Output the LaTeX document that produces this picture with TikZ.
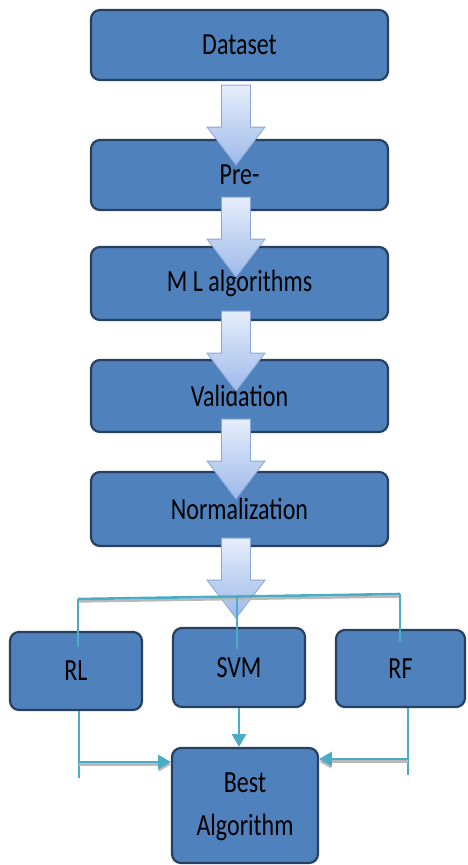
\documentclass[tikz,border=0pt]{standalone}
\usepackage{graphicx}
\usepackage{fontspec}
\setmainfont{Carlito}
\usepackage{tikz}
\usetikzlibrary{shapes,arrows,positioning,calc}

\definecolor{boxblue}{HTML}{4F81BD}
\definecolor{boxedge}{HTML}{27405F}
\definecolor{linkteal}{HTML}{4BACC6}
\definecolor{arrtop}{HTML}{E6EEFB}
\definecolor{arrbot}{HTML}{9DB9EA}
\definecolor{arredge}{HTML}{8AA6D8}

% text in the source is drawn a bit taller than wide
\newcommand{\tall}[1]{\scalebox{1}[1.28]{#1}}
% hollow block arrow, #1 = middle of the top of its shaft
\newcommand{\bigarrow}[1]{%
  \shade[blockarrow] (#1) ++(-14.5,0) -- ++(29,0) -- ++(0,42) -- ++(14.5,0)
    -- ++(-29,38) -- ++(-29,-38) -- ++(14.5,0) -- cycle;}

\begin{document}
\begin{tikzpicture}[x=1pt,y=-1pt,
  box/.style={rectangle,rounded corners=9pt,draw=boxedge,line width=2.2pt,fill=boxblue,
    minimum width=297pt,minimum height=72pt,inner sep=0pt,
    font=\fontsize{24}{33}\selectfont},
  smallbox/.style={box,minimum width=131pt,minimum height=78pt},
  blockarrow/.style={top color=arrtop,bottom color=arrbot,draw=arredge,line width=0.8pt},
  link/.style={draw=linkteal,line width=2.6pt},
  shadowed/.style={preaction={draw=gray!55,line width=2.4pt,transform canvas={yshift=-2.5pt}}}]
\useasboundingbox (0,0) rectangle (467,865);

\node[box,minimum height=70pt] (data) at (239.5,45) {\tall{Dataset}};
\node[box,minimum height=70pt] (pre) at (239.5,175) {\tall{Pre-}};
\node[box,minimum height=73pt] (ml) at (239.5,283.5) {\tall{M L algorithms}};
\node[box] (valid) at (239.5,396) {\tall{Validation}};
\node[box,minimum height=74pt] (norm) at (239.5,509) {\tall{Normalization}};

\foreach \n/\dy in {data/4,pre/-14,ml/-10,valid/-14,norm/-9}
  \bigarrow{$(\n.south)+(-3.5,\dy)$};

\node[smallbox,minimum width=132pt] (rl) at (76,671) {\tall{RL}};
\node[smallbox,minimum width=132pt,minimum height=79pt] (svm) at (239,667.5) {\tall{SVM}};
\node[smallbox,minimum width=129pt,minimum height=77pt] (rf) at (400.5,668.5) {\tall{RF}};
\node[box,minimum width=146pt,minimum height=115pt] (best) at (245,805.5)
  {\tall{\begin{tabular}{@{}c@{}}Best\\Algorithm\end{tabular}}};

% branch to the three models
\coordinate (busl) at (78,599);
\coordinate (busr) at (400,594);
\coordinate (busm) at (237,597);
\draw[link,shadowed] (busl) -- (busr);
\draw[link] (busl) -- ($(busl |- rl.north)+(0,16)$);
\draw[link] (busm) -- ($(busm |- svm.north)+(0,22)$);
\draw[link] (busr) -- ($(busr |- rf.north)+(0,13)$);

% join into the best one
\coordinate (rlend) at (79,778);
\coordinate (rlknee) at (79,762);
\coordinate (rfend) at (408,775);
\coordinate (rfknee) at (408,759);
\draw[link] (rl.south -| rlend) -- (rlend);
\draw[link] (rf.south -| rfend) -- (rfend);
\draw[link,shadowed,-triangle 60] (rlknee) -- (rlknee -| best.west);
\draw[link,shadowed,-triangle 60] (rfknee) -- (rfknee -| best.east);
\draw[link,-triangle 60] (svm.south) -- (svm.south |- best.north);
\end{tikzpicture}
\end{document}
